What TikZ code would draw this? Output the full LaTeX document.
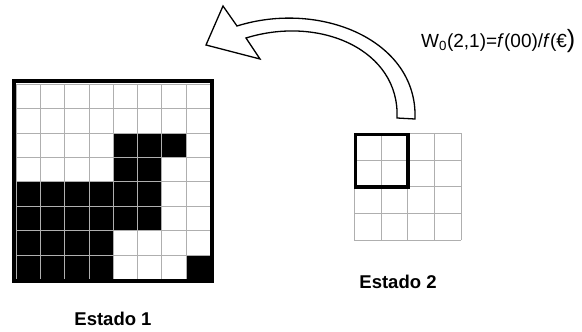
\documentclass[tikz,border=0pt]{standalone}
\usepackage{fontspec}
\setmainfont{Liberation Sans}
\usetikzlibrary{positioning}
\definecolor{gridgray}{RGB}{175,175,175}

\begin{document}
\begin{tikzpicture}[x=1pt,y=-1pt]
  \useasboundingbox (0,0) rectangle (582,332);
  % Estado 1: 8x8 grid
  \foreach \c/\r in {4/2,5/2,6/2,4/3,5/3,0/4,1/4,2/4,3/4,4/4,5/4,
                     0/5,1/5,2/5,3/5,4/5,5/5,0/6,1/6,2/6,3/6,
                     0/7,1/7,2/7,3/7,7/7}
    \fill[black] (16+24.25*\c,84+24.4*\r) rectangle ++(24.25,24.4);
  \foreach \i in {0,...,8} {
    \draw[gridgray,thin] (16+24.25*\i,84) -- (16+24.25*\i,279.2);
    \draw[gridgray,thin] (16,84+24.4*\i) -- (210,84+24.4*\i);
  }
  \draw[line width=4pt] (14,80.5) rectangle (211.5,281);
  \node[font=\fontsize{18.5}{20}\selectfont\bfseries] (estado1) at (113,319) {Estado 1};
  % Estado 2: 4x4 grid
  \foreach \i in {0,...,4} {
    \draw[gridgray,thin] (354+26.75*\i,133) -- (354+26.75*\i,240);
    \draw[gridgray,thin] (354,133+26.75*\i) -- (461,133+26.75*\i);
  }
  \draw[line width=3.5pt] (355.5,134.5) rectangle (408,187);
  \node[font=\fontsize{18.5}{20}\selectfont\bfseries] (estado2) at (398,282) {Estado 2};
  % Arrow from Estado 2 back to Estado 1
  \draw[line width=1.3pt,line join=miter,fill=white]
    (415,119) .. controls (418,40) and (320,0) .. (237,26)
    -- (223,6) -- (206,45) -- (260,59) -- (246,38)
    .. controls (320,15) and (400,50) .. (397,118) -- cycle;
  \node[font=\fontsize{19}{20}\selectfont,anchor=west,inner sep=0pt] (peso) at (421,41)
    {W\textsubscript{0}(2,1)=\textit{f}(00)/\textit{f}(€{\fontsize{25}{25}\selectfont)}};
\end{tikzpicture}
\end{document}
